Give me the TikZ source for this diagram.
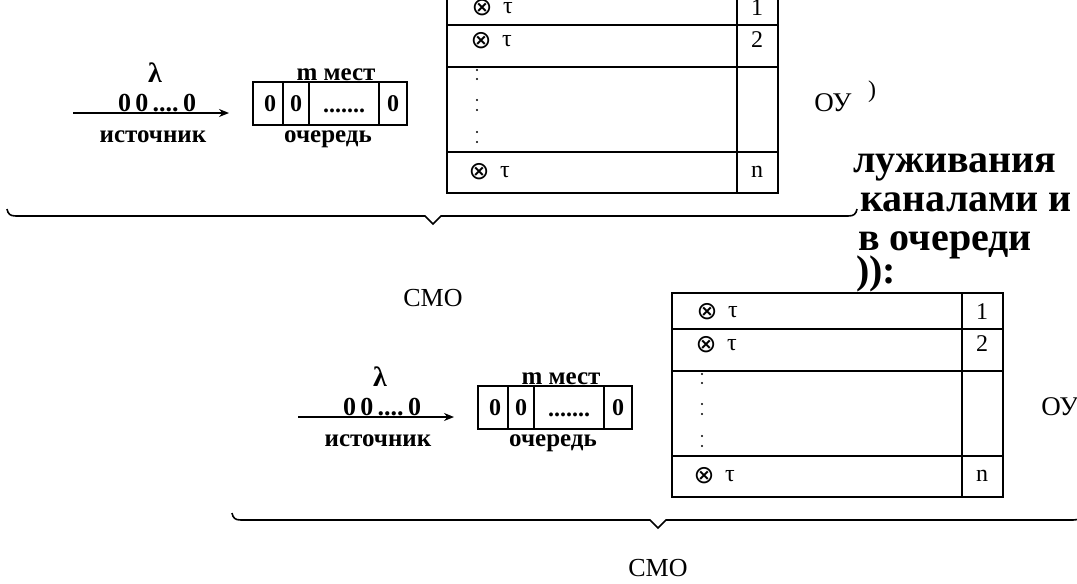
\documentclass[tikz,border=0pt]{standalone}
\usepackage{fontspec}
\setmainfont{Liberation Serif}
\newfontfamily\djv{DejaVu Sans}
\usetikzlibrary{arrows.meta}
\tikzset{
  lbl/.style={inner sep=0pt, font=\bfseries\fontsize{25}{25}\selectfont},
  zeros/.style={inner sep=0pt, font=\bfseries\fontsize{26}{26}\selectfont},
  cell/.style={inner sep=0pt, font=\bfseries\fontsize{24}{24}\selectfont},
  rowtxt/.style={inner sep=0pt, font=\fontsize{24}{24}\selectfont},
  otimesstyle/.style={inner sep=0pt, font=\djv\fontsize{25}{25}\selectfont},
  oy/.style={inner sep=0pt, font=\fontsize{27}{27}\selectfont},
  cmo/.style={inner sep=0pt, font=\fontsize{26}{26}\selectfont},
  tbl/.style={line width=1.4pt},
  body/.style={inner sep=0pt, font=\bfseries\fontsize{40}{40}\selectfont},
  frag/.style={inner sep=0pt, font=\fontsize{24}{24}\selectfont},
}
\newcommand\cmofig[4]{%
\begin{scope}[shift={(#2,#3)}]
  \node[lbl, font=\bfseries\fontsize{28}{28}\selectfont] (#1-lam) at (155,73) {λ};
  \coordinate (#1-src) at (73,113);
  \coordinate (#1-tip) at (229,113);
  \draw[-{Stealth[length=10pt,width=8pt]}, line width=1.5pt] (#1-src) -- (#1-tip);
  \node[zeros, anchor=base] (#1-zeros) at (157,111) {0\,0\,....\,0};
  \node[lbl] (#1-srcl) at (153,137) {источник};
  \draw[tbl] (253,82) rectangle (407,125);
  \draw[tbl] (283,82) -- (283,125) (309,82) -- (309,125) (379,82) -- (379,125);
  \node[cell] (#1-q1) at (270,104) {0};
  \node[cell] (#1-q2) at (296,104) {0};
  \node[cell, anchor=base] (#1-q3) at (344,112) {.......};
  \node[cell] (#1-q4) at (393,104) {0};
  \node[lbl] (#1-mm) at (336,75) {m мест};
  \node[lbl] (#1-och) at (328,139) {очередь};
  \draw[tbl] (447,-11) rectangle (778,193);
  \draw[tbl] (447,25) -- (778,25) (447,67) -- (778,67) (447,152) -- (778,152);
  \draw[line width=2pt] (737,-11) -- (737,193);
  \node[otimesstyle] (#1-r1a) at (482,8) {⊗};
  \node[rowtxt] (#1-r1b) at (508,8) {τ};
  \node[otimesstyle] (#1-r2a) at (481,41) {⊗};
  \node[rowtxt] (#1-r2b) at (507,41) {τ};
  \node[otimesstyle] (#1-rna) at (479,172) {⊗};
  \node[rowtxt] (#1-rnb) at (505,172) {τ};
  \node[rowtxt] (#1-n1) at (757,8) {1};
  \node[rowtxt] (#1-n2) at (757,40) {2};
  \node[rowtxt] (#1-nn) at (757,172) {n};
  \foreach \yy in {70,79,100,110,132,142} \fill (477,\yy) circle (1.1pt);
  \draw[line width=1.6pt] (7,209) .. controls (8,214) and (10,216) .. (16,216) -- (425,216) -- (433,224) -- (441,216) -- (848,216) .. controls (854,216) and (856,214) .. (857,209);
  \node[cmo] (#1-cmo) at (433,#4) {СМО};
\end{scope}}
\begin{document}
\begin{tikzpicture}[x=1pt,y=-1pt]
\useasboundingbox (0,0) rectangle (1077,584);
\clip (0,0) rectangle (1077,584);
\fill[white] (0,0) rectangle (1077,584);
\node[frag, anchor=base west] (t0) at (868,97) {)};
\node[body, anchor=base west] (t1) at (853,172) {луживания};
\node[body, anchor=base west] (t2) at (860,211) {каналами и};
\node[body, anchor=base west] (t3) at (858,250) {в очереди};
\node[body, anchor=base west] (t4) at (856,283) {)):};
\cmofig{a}{0}{0}{298}
\cmofig{b}{225}{304}{264}
\node[oy] (a-oyt) at (833,103) {ОУ};
\node[oy] (b-oyt) at (1060,407) {ОУ};
\end{tikzpicture}
\end{document}
